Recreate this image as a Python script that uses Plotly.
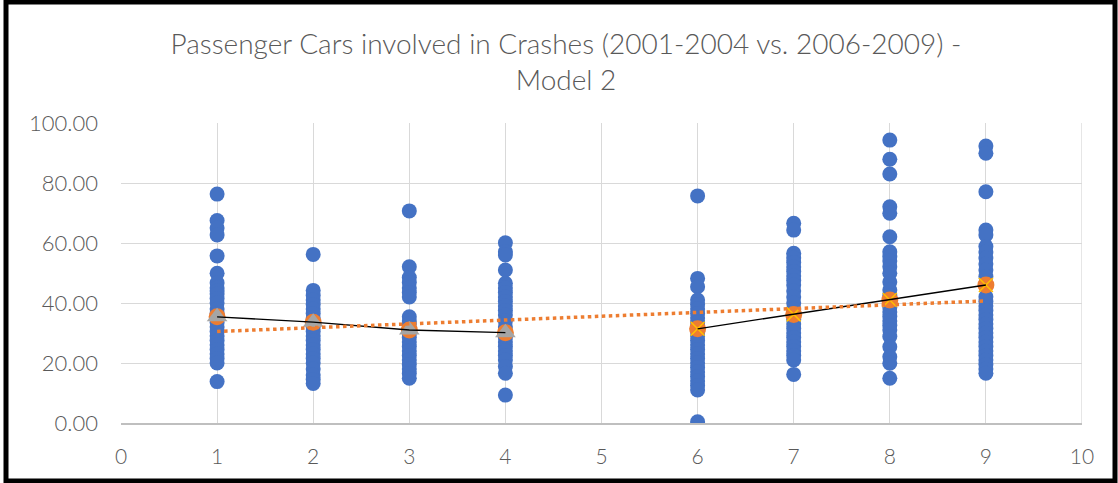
import numpy as np
import plotly.graph_objects as go

# Crash counts per vehicle group (x = group index)
x_groups = [1, 2, 3, 4, 6, 7, 8, 9]

values_1 = [76.3, 67.5, 65.0, 62.7, 55.7, 49.9, 46.7, 45.0, 44.0, 43.0, 41.5, 40.0,
            38.0, 36.5, 35.0, 33.5, 32.0, 30.5, 29.0, 27.5, 26.0, 24.5, 23.0, 21.5,
            20.0, 13.8]
values_2 = [56.2, 44.2, 42.5, 41.0, 39.5, 38.0, 36.5, 35.0, 33.5, 32.0, 30.5, 29.0,
            27.5, 26.0, 24.5, 23.0, 21.5, 20.0, 18.0, 16.0, 14.5, 13.2]
values_3 = [70.7, 52.1, 48.5, 46.8, 45.0, 43.5, 42.0, 35.4, 34.0, 33.0, 31.5, 30.0,
            28.5, 27.0, 25.5, 24.0, 22.5, 21.0, 19.5, 18.0, 16.5, 14.9]
values_4 = [60.1, 57.1, 56.0, 51.0, 46.6, 45.0, 43.5, 42.0, 40.5, 39.0, 37.5, 36.0,
            34.0, 32.0, 30.0, 28.5, 27.0, 25.5, 24.0, 22.5, 21.0, 18.8, 16.6, 9.3]
values_6 = [75.7, 48.2, 45.4, 41.0, 39.5, 38.0, 36.5, 35.0, 33.5, 32.0, 30.5, 29.0,
            27.5, 26.0, 24.5, 23.0, 21.5, 20.0, 18.5, 17.0, 15.5, 14.0, 12.5, 11.0, 0.4]
values_7 = [66.6, 64.3, 56.6, 55.0, 53.5, 52.0, 50.5, 49.0, 47.5, 46.0, 44.0, 42.0,
            40.0, 38.0, 36.0, 34.5, 33.0, 31.5, 30.0, 28.5, 27.0, 25.5, 24.0, 22.5,
            21.0, 16.2]
values_8 = [94.3, 87.9, 83.0, 72.1, 69.9, 62.1, 57.1, 55.4, 54.0, 52.1, 49.9, 47.0,
            44.3, 42.5, 40.5, 38.5, 37.0, 35.5, 34.0, 32.5, 31.0, 28.8, 25.4, 22.1,
            19.9, 14.9]
values_9 = [92.3, 89.9, 77.1, 64.3, 62.7, 58.8, 57.0, 55.0, 53.0, 51.0, 48.8, 42.1,
            40.5, 39.0, 37.5, 36.0, 34.5, 33.0, 31.5, 30.0, 28.5, 27.0, 25.5, 24.0,
            22.5, 21.0, 19.5, 18.0, 16.6]

group_values = [values_1, values_2, values_3, values_4,
                values_6, values_7, values_8, values_9]

# Group means: first period (2001-2004) and second period (2006-2009)
means_first_x = [1, 2, 3, 4]
means_first = [35.4, 33.6, 31.0, 30.1]
means_second_x = [6, 7, 8, 9]
means_second = [31.4, 36.2, 41.0, 46.0]

x_ticks = list(range(0, 11))
y_ticks = [0, 20, 40, 60, 80, 100]

TEXT = "#595959"
FONT = "Lato"

scatter_x = []
scatter_y = []
for gx, vals in zip(x_groups, group_values):
    scatter_x.extend([gx] * len(vals))
    scatter_y.extend(vals)

fig = go.Figure()

fig.add_trace(go.Scatter(
    x=scatter_x, y=scatter_y, mode="markers",
    marker=dict(color="#4472C4", size=15, line=dict(width=0)),
    hoverinfo="x+y",
))

all_mean_x = means_first_x + means_second_x
all_mean_y = means_first + means_second

# Orange mean circles
fig.add_trace(go.Scatter(
    x=all_mean_x, y=all_mean_y, mode="markers",
    marker=dict(color="#ED7D31", size=17, line=dict(width=0)),
))
# Grey triangles for the first period
fig.add_trace(go.Scatter(
    x=means_first_x, y=means_first, mode="markers",
    marker=dict(color="#A5A5A5", symbol="triangle-up", size=18, line=dict(width=0)),
))
# Yellow crosses for the second period
fig.add_trace(go.Scatter(
    x=means_second_x, y=means_second, mode="markers",
    marker=dict(symbol="x-thin", size=14, line=dict(color="#FFC000", width=1.5)),
))

# Connecting lines of the means in each period
fig.add_trace(go.Scatter(
    x=means_first_x, y=means_first, mode="lines",
    line=dict(color="black", width=1.3),
))
fig.add_trace(go.Scatter(
    x=means_second_x, y=means_second, mode="lines",
    line=dict(color="black", width=1.3),
))

# Linear trend through the means
slope, intercept = np.polyfit(all_mean_x, all_mean_y, 1)
trend_x = [min(all_mean_x), max(all_mean_x)]
trend_y = [slope * v + intercept for v in trend_x]
fig.add_trace(go.Scatter(
    x=trend_x, y=trend_y, mode="lines",
    line=dict(color="#ED7D31", width=3.5, dash="dot"),
))

# Plot area geometry (pixels) for the outer frame
L, R, T, B = 121, 36, 123, 60
W, H = 1118, 483
pw, ph = W - L - R, H - T - B


def px_to_paper_x(px):
    return (px - L) / pw


def py_to_paper_y(py):
    return (H - B - py) / ph


fig.update_layout(
    width=W, height=H,
    margin=dict(l=L, r=R, t=T, b=B),
    paper_bgcolor="white", plot_bgcolor="white",
    showlegend=False,
    font=dict(family=FONT, color=TEXT, size=21),
    title=dict(
        text="Passenger Cars involved in Crashes (2001-2004 vs. 2006-2009) -<br>Model 2",
        x=566 / W, xanchor="center",
        y=1 - 54 / H, yanchor="middle", yref="container",
        font=dict(family=FONT, size=28, color=TEXT, weight=300),
    ),
    xaxis=dict(
        range=[0, 10], tickvals=x_ticks, ticktext=[str(v) for v in x_ticks],
        showgrid=True, gridcolor="#D9D9D9", gridwidth=1.3,
        zeroline=False, showline=True, linecolor="#BFBFBF", linewidth=1.5,
        ticks="", ticklabelstandoff=14,
        tickfont=dict(family=FONT, size=21, color=TEXT, weight=300),
    ),
    yaxis=dict(
        range=[0, 100], tickvals=y_ticks, tickformat=".2f",
        showgrid=True, gridcolor="#D9D9D9", gridwidth=1.3,
        zeroline=False, showline=False,
        ticks="", ticklabelstandoff=22,
        tickfont=dict(family=FONT, size=22, color=TEXT, weight=300),
    ),
    shapes=[
        # right edge grid line at x = 10
        dict(type="line", xref="x", yref="paper", x0=10, x1=10, y0=0, y1=1,
             line=dict(color="#D9D9D9", width=1.3), layer="below"),
        # outer black frame
        dict(type="rect", xref="paper", yref="paper",
             x0=px_to_paper_x(6), x1=px_to_paper_x(1115),
             y0=py_to_paper_y(481), y1=py_to_paper_y(2),
             line=dict(color="black", width=5), fillcolor="rgba(0,0,0,0)"),
    ],
)

fig.write_html("out.html")
